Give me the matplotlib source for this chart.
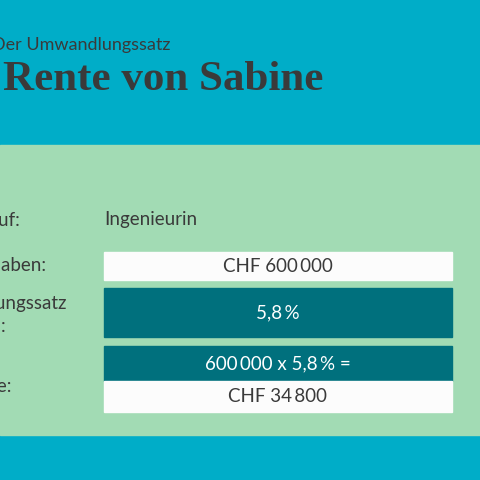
import matplotlib.pyplot as plt
from matplotlib.patches import Rectangle

title = "Die Rente von Sabine"
subtitle = "Der Umwandlungssatz"
labels = ["Beruf:", "Vorsorgeguthaben:", "Umwandlungssatz\nbei Sabine:", "Rente:"]
box_texts = ["CHF 600\u2009000", "5,8\u2009%", "600\u2009000 x 5,8\u2009% =", "CHF 34\u2009800"]
beruf = "Ingenieurin"

TEAL = "#00adc8"
GREEN = "#a2dbb4"
DARK = "#00707d"
INK = "#3a3a3a"
WHITE = "#fcfcfc"

fig = plt.figure(figsize=(4.8, 4.8), dpi=100)
fig.patch.set_facecolor(TEAL)
ax = fig.add_axes([0, 0, 1, 1])
ax.set_xlim(0, 480)
ax.set_ylim(480, 0)
ax.axis("off")
plt.rcParams["font.family"] = ["Lato", "DejaVu Sans"]

ax.add_patch(Rectangle((0, 145), 480, 290, color=GREEN))

ax.text(170, 45, subtitle, ha="right", va="center", fontsize=13, color=INK)
ax.text(323, 80, title, ha="right", va="center", fontsize=31, color=INK,
        family="Liberation Serif", weight="bold")

# boxes: (top, height, face, text colour)
boxes = [(252, 28, WHITE, INK), (288, 49, DARK, "white"),
         (346, 35, DARK, "white"), (381, 31, WHITE, INK)]
for (top, h, face, tc), txt in zip(boxes, box_texts):
    ax.add_patch(Rectangle((104, top), 348, h, color=face))
    ax.text(278, top + h / 2, txt, ha="center", va="center", fontsize=13.5, color=tc)

ax.text(104, 220, beruf, ha="left", va="center", fontsize=13.5, color=INK)
label_pos = [(20, 220), (47, 266), (67, 316), (12, 386)]
for (x, y), lab in zip(label_pos, labels):
    if "\n" in lab:
        a, b = lab.split("\n")
        ax.text(x, y - 12, a, ha="right", va="center", fontsize=13.5, color=INK)
        ax.text(6, y + 11, b[-1], ha="right", va="center", fontsize=13.5, color=INK)
    else:
        ax.text(x, y, lab, ha="right", va="center", fontsize=13.5, color=INK)

fig.savefig("out.png", dpi=100, facecolor=TEAL)
